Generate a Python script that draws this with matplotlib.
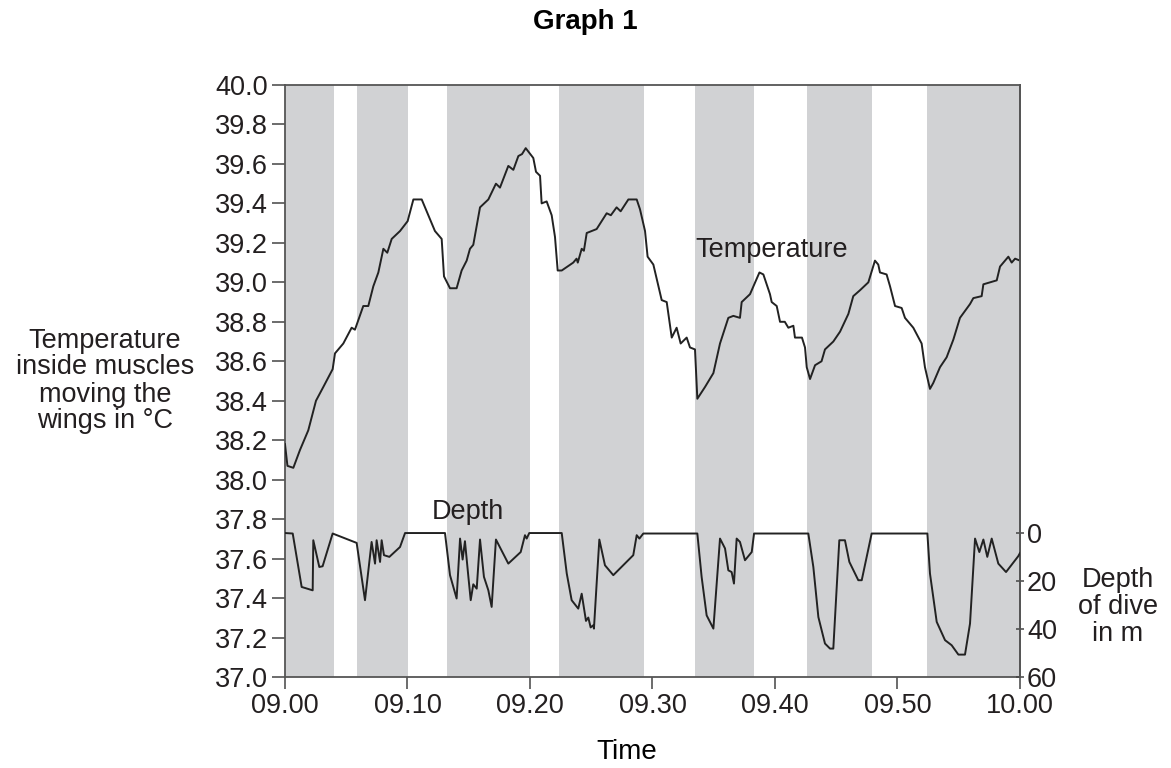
import matplotlib
matplotlib.use('Agg')
import matplotlib.pyplot as plt

plt.rcParams['font.family'] = ['Liberation Sans', 'DejaVu Sans']

# minutes after 09.00
band_start = [0.0, 5.87, 13.2, 22.35, 33.47, 42.59, 52.4]
band_end = [4.0, 10.08, 20.0, 29.33, 38.31, 47.94, 60.0]

temp_time = [0.0, 0.2, 0.68, 1.22, 1.9, 2.53, 3.13, 3.89, 4.08, 4.76, 5.44, 5.71,
             6.39, 6.8, 7.21, 7.62, 8.03, 8.35, 8.71, 9.39, 10.01, 10.48, 11.16,
             12.24, 12.79, 12.98, 13.47, 14.01, 14.42, 14.83, 15.1, 15.37, 15.92,
             16.6, 17.22, 17.55, 18.23, 18.64, 19.05, 19.35, 19.65, 20.27, 20.49,
             20.82, 20.95, 21.36, 21.77, 22.04, 22.26, 22.59, 23.53, 23.8, 23.9,
             24.22, 24.4, 24.63, 25.03, 25.44, 26.26, 26.6, 27.07, 27.4, 28.03,
             28.71, 28.98, 29.39, 29.6, 30.07, 30.75, 31.16, 31.57, 31.97, 32.3,
             32.79, 33.06, 33.47, 33.66, 34.29, 34.97, 35.51, 36.19, 36.6, 37.14,
             37.28, 37.96, 38.73, 39.05, 39.59, 39.73, 40.14, 40.41, 40.8, 41.09,
             41.5, 41.63, 42.2, 42.45, 42.59, 42.86, 43.27, 43.8, 44.08, 44.76,
             45.31, 45.99, 46.39, 46.94, 47.62, 48.16, 48.43, 48.57, 49.11, 49.39,
             49.8, 50.34, 50.61, 51.29, 51.97, 52.24, 52.65, 52.92, 53.47, 54.01,
             54.56, 55.1, 55.92, 56.19, 56.87, 57.01, 58.1, 58.37, 59.05, 59.32,
             59.6, 60.0]
temp = [38.18, 38.07, 38.06, 38.15, 38.25, 38.40, 38.47, 38.56, 38.64, 38.69, 38.77, 38.76,
        38.88, 38.88, 38.98, 39.05, 39.17, 39.15, 39.22, 39.26, 39.31, 39.42, 39.42,
        39.26, 39.22, 39.03, 38.97, 38.97, 39.06, 39.11, 39.17, 39.19, 39.38,
        39.42, 39.50, 39.48, 39.59, 39.57, 39.64, 39.65, 39.68, 39.63, 39.56,
        39.54, 39.40, 39.41, 39.34, 39.23, 39.06, 39.06, 39.10, 39.12, 39.10,
        39.17, 39.16, 39.25, 39.26, 39.27, 39.35, 39.34, 39.38, 39.36, 39.42,
        39.42, 39.37, 39.26, 39.13, 39.09, 38.91, 38.90, 38.72, 38.77, 38.69,
        38.72, 38.67, 38.66, 38.41, 38.47, 38.54, 38.69, 38.82, 38.83, 38.82,
        38.90, 38.94, 39.05, 39.04, 38.94, 38.90, 38.88, 38.80, 38.80, 38.77,
        38.78, 38.72, 38.72, 38.67, 38.57, 38.51, 38.58, 38.60, 38.66, 38.70,
        38.75, 38.84, 38.93, 38.96, 39.00, 39.11, 39.09, 39.05, 39.04, 38.98,
        38.88, 38.87, 38.82, 38.77, 38.69, 38.57, 38.46, 38.49, 38.57, 38.62,
        38.71, 38.82, 38.89, 38.92, 38.93, 38.99, 39.01, 39.08, 39.13, 39.10,
        39.12, 39.11]

depth_time = [0.0, 0.63, 1.36, 2.26, 2.31, 2.8, 3.07, 3.89, 5.85, 6.53, 7.07, 7.35,
              7.48, 7.76, 7.89, 8.08, 8.52, 9.39, 9.8, 13.06, 13.47, 14.01, 14.29,
              14.5, 14.69, 14.97, 15.16, 15.37, 15.65, 15.92, 16.24, 16.6, 16.87,
              17.22, 18.23, 19.24, 19.59, 19.73, 19.94, 22.59, 23.0, 23.4, 23.94,
              24.22, 24.57, 24.76, 24.95, 25.17, 25.22, 25.44, 25.66, 26.12, 26.8,
              28.43, 28.71, 28.93, 29.25, 33.66, 34.01, 34.42, 34.97, 35.51, 35.92,
              36.19, 36.46, 36.65, 36.87, 37.14, 37.55, 38.1, 38.29, 42.72, 43.13,
              43.54, 44.08, 44.49, 44.76, 45.25, 45.71, 46.07, 46.8, 47.08, 47.89,
              52.44, 52.65, 53.2, 53.88, 54.42, 54.97, 55.51, 55.92, 56.33, 56.68,
              57.01, 57.33, 57.69, 58.23, 58.86, 59.86, 60.0]
depth = [0.2, 0.4, 22.6, 24.0, 3.2, 14.3, 14.0, 0.4, 4.3, 28.1, 3.9, 12.9,
         3.2, 12.2, 3.2, 9.4, 10.1, 6.0, 0.2, 0.2, 17.7, 27.4, 2.5,
         11.2, 3.6, 18.4, 28.1, 21.5, 23.3, 2.9, 18.4, 24.0, 30.9,
         2.9, 12.9, 8.1, 1.1, 2.5, 0.2, 0.2, 17.0, 28.1, 31.6,
         25.4, 36.7, 35.3, 39.4, 38.5, 39.9, 21.2, 2.9, 13.6, 17.7,
         9.4, 1.1, 2.5, 0.4, 0.4, 18.4, 34.4, 39.9, 2.5, 6.6,
         15.7, 16.4, 21.2, 2.5, 3.9, 11.5, 8.1, 0.4, 0.4, 14.3,
         35.1, 46.1, 48.2, 48.2, 3.2, 3.2, 12.2, 19.8, 19.8, 0.4,
         0.4, 17.0, 37.1, 44.7, 46.8, 50.7, 50.7, 37.8, 2.5, 8.1,
         2.9, 10.1, 2.5, 12.9, 16.4, 9.8, 8.5]

x_ticks = [0, 10, 20, 30, 40, 50, 60]
x_labels = ['09.00', '09.10', '09.20', '09.30', '09.40', '09.50', '10.00']
temp_ticks = [37.0 + 0.2 * i for i in range(16)]
depth_ticks = [0, 20, 40, 60]

txt = '#231f20'
fs = 19.5

fig = plt.figure(figsize=(11.71, 7.68), dpi=100)
ax = fig.add_axes([0.24338, 0.11849, 0.62767, 0.77083])

for s, e in zip(band_start, band_end):
    ax.axvspan(s, e, color='#d1d2d4', lw=0, zorder=0)

ax.plot(temp_time, temp, color='#222222', lw=1.4, zorder=3)
ax.set_xlim(0, 60)
ax.set_ylim(37.0, 40.0)
ax.set_xticks(x_ticks)
ax.set_xticklabels(x_labels)
ax.set_yticks(temp_ticks)
ax.set_yticklabels(['%.1f' % v for v in temp_ticks])
ax.tick_params(axis='y', direction='out', length=9.4, width=1.1, color='#444444',
               labelsize=fs, labelcolor=txt, pad=3)
ax.tick_params(axis='x', direction='out', length=8.6, width=1.1, color='#444444',
               labelsize=fs, labelcolor=txt, pad=3)
for sp in ax.spines.values():
    sp.set_color('#555555')
    sp.set_linewidth(1.3)

ax2 = ax.twinx()
ax2.plot(depth_time, depth, color='#222222', lw=1.4, zorder=3)
ax2.set_ylim(60, -185.9)
ax2.set_yticks(depth_ticks)
ax2.tick_params(axis='y', direction='inout', length=6, width=1.1, color='#444444',
                labelsize=fs, labelcolor=txt, pad=2)
for k in ['left', 'top', 'bottom']:
    ax2.spines[k].set_visible(False)
ax2.spines['right'].set_color('#555555')
ax2.spines['right'].set_linewidth(1.3)

ax.text(39.76, 39.163, 'Temperature', fontsize=fs, color=txt, ha='center', va='center')
ax.text(14.94, 37.835, 'Depth', fontsize=fs, color=txt, ha='center', va='center')

fig.text(585 / 1171, 1 - 22 / 768, 'Graph 1', fontsize=20, fontweight='bold',
         color='black', ha='center', va='center')
fig.text(627 / 1171, 1 - 752 / 768, 'Time', fontsize=20, color='black',
         ha='center', va='center')
fig.text(105 / 1171, 1 - 381 / 768, 'Temperature\ninside muscles\nmoving the\nwings in °C',
         fontsize=fs, color=txt, ha='center', va='center', linespacing=1.05)
fig.text(1118 / 1171, 1 - 607 / 768, 'Depth\nof dive\nin m',
         fontsize=fs, color=txt, ha='center', va='center', linespacing=1.05)

fig.savefig('out.png', dpi=100)
